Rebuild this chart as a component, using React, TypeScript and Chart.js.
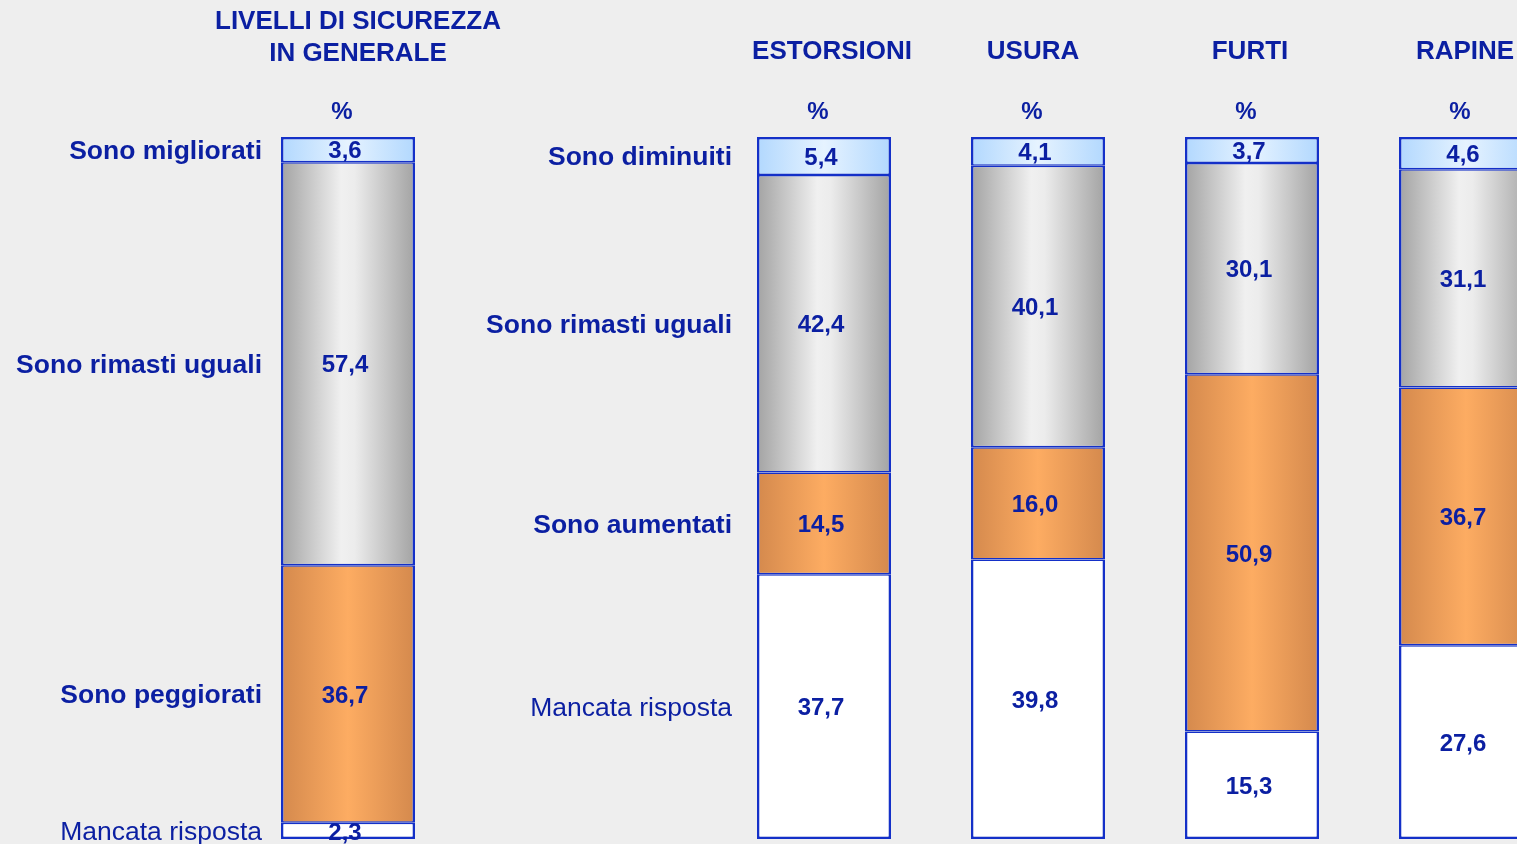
import React, { useEffect, useRef } from "react";
import { Chart, registerables } from "chart.js";

Chart.register(...registerables);

// ---------- DATA ----------
const generalTitle = ["LIVELLI DI SICUREZZA", "IN GENERALE"];
const generalCategories = ["LIVELLI DI SICUREZZA IN GENERALE"];
const generalSeries = ["Mancata risposta", "Sono peggiorati", "Sono rimasti uguali", "Sono migliorati"];
const generalNoAnswer = [2.3];
const generalWorse = [36.7];
const generalSame = [57.4];
const generalImproved = [3.6];

const crimeCategories = ["ESTORSIONI", "USURA", "FURTI", "RAPINE"];
const crimeSeries = ["Mancata risposta", "Sono aumentati", "Sono rimasti uguali", "Sono diminuiti"];
const crimeNoAnswer = [37.7, 39.8, 15.3, 27.6];
const crimeIncreased = [14.5, 16.0, 50.9, 36.7];
const crimeSame = [42.4, 40.1, 30.1, 31.1];
const crimeDecreased = [5.4, 4.1, 3.7, 4.6];

const unitLabel = "%";

// ---------- STYLE ----------
const BG = "#eeeeee";
const TEXT = "#0b1fa2";
const BORDER = "#1430c8";
const FONT = "'Liberation Sans', Arial, Helvetica, sans-serif";
const BAR_PCT = 134 / 214;
const H = 844;
const TY = 2; // vertical text nudge

type Stop = [number, string];
const whiteStops: Stop[] = [[0, "#ffffff"], [1, "#ffffff"]];
const orangeStops: Stop[] = [[0, "#d4894d"], [0.5, "#fdac62"], [1, "#d4894d"]];
const grayStops: Stop[] = [[0, "#a3a3a3"], [0.45, "#f0f0f0"], [0.55, "#ececec"], [1, "#a3a3a3"]];
const blueStops: Stop[] = [[0, "#b2d8fe"], [0.5, "#e6f3ff"], [1, "#b2d8fe"]];
const fillStops = [whiteStops, orangeStops, grayStops, blueStops];

const gradFill = (stops: Stop[]) => (c: any) => {
  const chart = c.chart;
  const ca = chart.chartArea;
  const xs = chart.scales && chart.scales.x;
  if (!ca || !xs || c.type !== "data") return stops[Math.floor(stops.length / 2)][1];
  const n = chart.data.labels.length;
  const w = (ca.width / n) * BAR_PCT;
  const cx = xs.getPixelForValue(c.dataIndex);
  const g = chart.ctx.createLinearGradient(cx - w / 2, 0, cx + w / 2, 0);
  stops.forEach(([o, col]) => g.addColorStop(o, col));
  return g;
};

const fmt = (v: number) => v.toFixed(1).replace(".", ",");

interface PanelSpec {
  labels: string[];
  series: string[];
  values: number[][];
  headers: string[][]; // per bar: header lines
  headerYs: number[];
  headerDx: number[];
  valueDx: number;
  labelGap: number;
  padLeft: number;
  padRight: number;
}

function makeOverlay(spec: PanelSpec) {
  return {
    id: "overlay",
    afterDatasetsDraw(chart: any) {
      const ctx = chart.ctx;
      ctx.save();
      ctx.fillStyle = TEXT;
      ctx.textBaseline = "middle";
      const nDs = chart.data.datasets.length;
      // values inside segments
      ctx.textAlign = "center";
      ctx.font = `bold 24px ${FONT}`;
      for (let i = 0; i < nDs; i++) {
        const meta = chart.getDatasetMeta(i);
        meta.data.forEach((bar: any, j: number) => {
          const v = chart.data.datasets[i].data[j];
          ctx.fillText(fmt(v), bar.x + spec.valueDx, (bar.y + bar.base) / 2 + TY);
        });
      }
      // series labels to the left of first bar
      ctx.textAlign = "right";
      for (let i = 0; i < nDs; i++) {
        const bar: any = chart.getDatasetMeta(i).data[0];
        ctx.font = `${i === 0 ? "normal" : "bold"} 26.5px ${FONT}`;
        ctx.fillText(spec.series[i], bar.x - bar.width / 2 - spec.labelGap, (bar.y + bar.base) / 2 + TY);
      }
      // headers + unit
      ctx.textAlign = "center";
      const first = chart.getDatasetMeta(0).data;
      first.forEach((bar: any, j: number) => {
        ctx.font = `bold 26px ${FONT}`;
        spec.headers[j].forEach((line, k) => {
          ctx.fillText(line, bar.x + spec.headerDx[j], spec.headerYs[k] + TY);
        });
        ctx.font = `bold 24px ${FONT}`;
        ctx.fillText(unitLabel, bar.x - 6, 110 + TY);
      });
      ctx.restore();
    },
  };
}

function Panel({ spec, left, width }: { spec: PanelSpec; left: number; width: number }) {
  const ref = useRef<HTMLCanvasElement | null>(null);
  useEffect(() => {
    if (!ref.current) return;
    const nDs = spec.values.length;
    const chart = new Chart(ref.current, {
      type: "bar",
      data: {
        labels: spec.labels,
        datasets: spec.values.map((vals, i) => ({
          label: spec.series[i],
          data: vals,
          backgroundColor: gradFill(fillStops[i]),
          borderColor: BORDER,
          borderWidth: {
            left: 2.5,
            right: 2.5,
            top: i === nDs - 1 ? 2.5 : 1.5,
            bottom: i === 0 ? 2.5 : 1.5,
          },
          borderSkipped: false,
          categoryPercentage: 1,
          barPercentage: BAR_PCT,
        })),
      },
      options: {
        responsive: false,
        animation: false,
        layout: { padding: { left: spec.padLeft, right: spec.padRight, top: 137, bottom: 5 } },
        plugins: { legend: { display: false }, tooltip: { enabled: false } },
        scales: {
          x: { display: false, stacked: true },
          y: { display: false, stacked: true, min: 0, max: 100 },
        },
      } as any,
      plugins: [makeOverlay(spec)],
    } as any);
    return () => chart.destroy();
  }, []);
  return (
    <canvas
      ref={ref}
      width={width}
      height={H}
      style={{ position: "absolute", left, top: 0, width, height: H, display: "block" }}
    />
  );
}

const generalSpec: PanelSpec = {
  labels: generalCategories,
  series: generalSeries,
  values: [generalNoAnswer, generalWorse, generalSame, generalImproved],
  headers: [generalTitle],
  headerYs: [20, 52],
  headerDx: [10],
  valueDx: -3,
  labelGap: 19,
  padLeft: 241,
  padRight: 65,
};

const crimeSpec: PanelSpec = {
  labels: crimeCategories,
  series: crimeSeries,
  values: [crimeNoAnswer, crimeIncreased, crimeSame, crimeDecreased],
  headers: crimeCategories.map((c) => [c]),
  headerYs: [50],
  headerDx: [8, -5, -2, -1],
  valueDx: -3,
  labelGap: 25,
  padLeft: 247,
  padRight: 7,
};

export default function App() {
  return (
    <div
      style={{
        position: "fixed",
        left: 0,
        top: 0,
        width: 1517,
        height: H,
        overflow: "hidden",
        background: BG,
      }}
    >
      <Panel spec={generalSpec} left={0} width={520} />
      <Panel spec={crimeSpec} left={470} width={1110} />
    </div>
  );
}
